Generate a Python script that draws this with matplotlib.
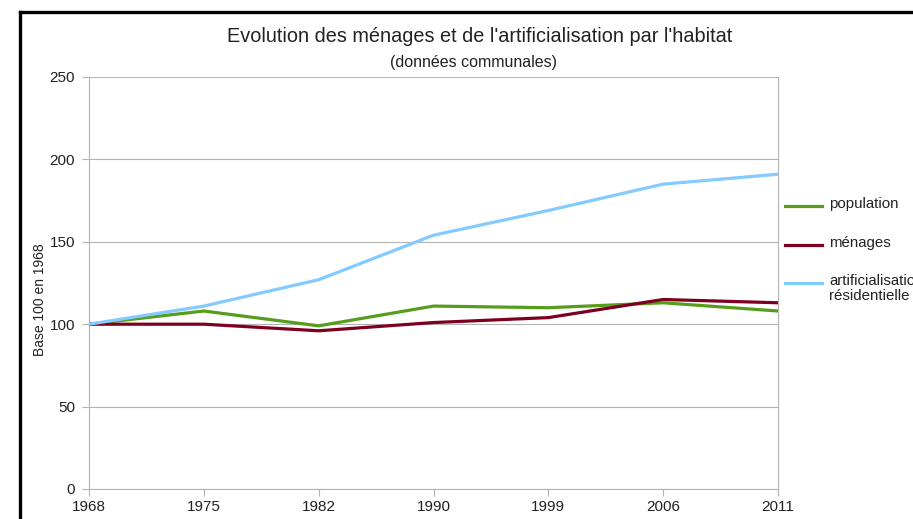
import matplotlib
matplotlib.use("Agg")
import matplotlib.pyplot as plt
from matplotlib.lines import Line2D

plt.rcParams['font.family'] = ['Liberation Sans', 'DejaVu Sans']

years = ["1968", "1975", "1982", "1990", "1999", "2006", "2011"]
population = [100, 108, 99, 111, 110, 113, 108]
menages = [100, 100, 96, 101, 104, 115, 113]
artificialisation = [100, 111, 127, 154, 169, 185, 191]

series_names = ["population", "ménages", "artificialisation\nrésidentielle"]
series_colors = ["#579D1C", "#7E0021", "#83CAFF"]

W, H = 913, 519
fig = plt.figure(figsize=(W / 100, H / 100), dpi=100)

ax = fig.add_axes([89 / W, 1 - 489 / H, (778 - 89) / W, (489 - 77) / H])
x = list(range(len(years)))
for vals, col in zip([population, menages, artificialisation], series_colors):
    ax.plot(x, vals, color=col, lw=2.3, solid_capstyle='butt', zorder=3)

ax.set_xlim(0, len(years) - 1)
ax.set_ylim(0, 250)
ax.set_yticks(range(0, 251, 50))
ax.set_xticks(x)
ax.set_xticklabels(years)
ax.yaxis.grid(True, color="#b3b3b3", lw=0.8)
ax.set_axisbelow(True)
for s in ax.spines.values():
    s.set_color("#b3b3b3")
    s.set_linewidth(0.8)
ax.spines['top'].set_visible(False)
ax.tick_params(axis='both', colors="#b3b3b3", labelcolor="#222222", labelsize=11,
               length=5, width=0.8)
ax.tick_params(axis='x', pad=3)
ax.tick_params(axis='y', pad=5)

fig.text(40 / W, 1 - 300 / H, "Base 100 en 1968", rotation=90, ha='center', va='center',
         fontsize=10, color="#222222")

fig.text(480 / W, 1 - 37 / H, "Evolution des ménages et de l'artificialisation par l'habitat",
         ha='center', va='center', fontsize=14.3, color="#222222")
fig.text(473 / W, 1 - 62 / H, "(données communales)", ha='center', va='center',
         fontsize=11.5, color="#222222")

# legend on the right, partly running off the edge
leg_y = [206, 245, 283]
for name, col, yy in zip(series_names, series_colors, leg_y):
    fig.add_artist(Line2D([785 / W, 822 / W], [1 - yy / H, 1 - yy / H], color=col, lw=2.3,
                          transform=fig.transFigure))
    fig.text(829 / W, 1 - (yy - 9) / H, name, ha='left', va='top', fontsize=10.8,
             color="#222222", linespacing=1.1)

# black frame around the chart
fig.add_artist(Line2D([20 / W, 1.0], [1 - 12 / H, 1 - 12 / H], color='black', lw=2.4,
                      transform=fig.transFigure))
fig.add_artist(Line2D([20 / W, 20 / W], [1 - 12 / H, 0], color='black', lw=2.4,
                      transform=fig.transFigure))

fig.savefig("out.png", dpi=100)
